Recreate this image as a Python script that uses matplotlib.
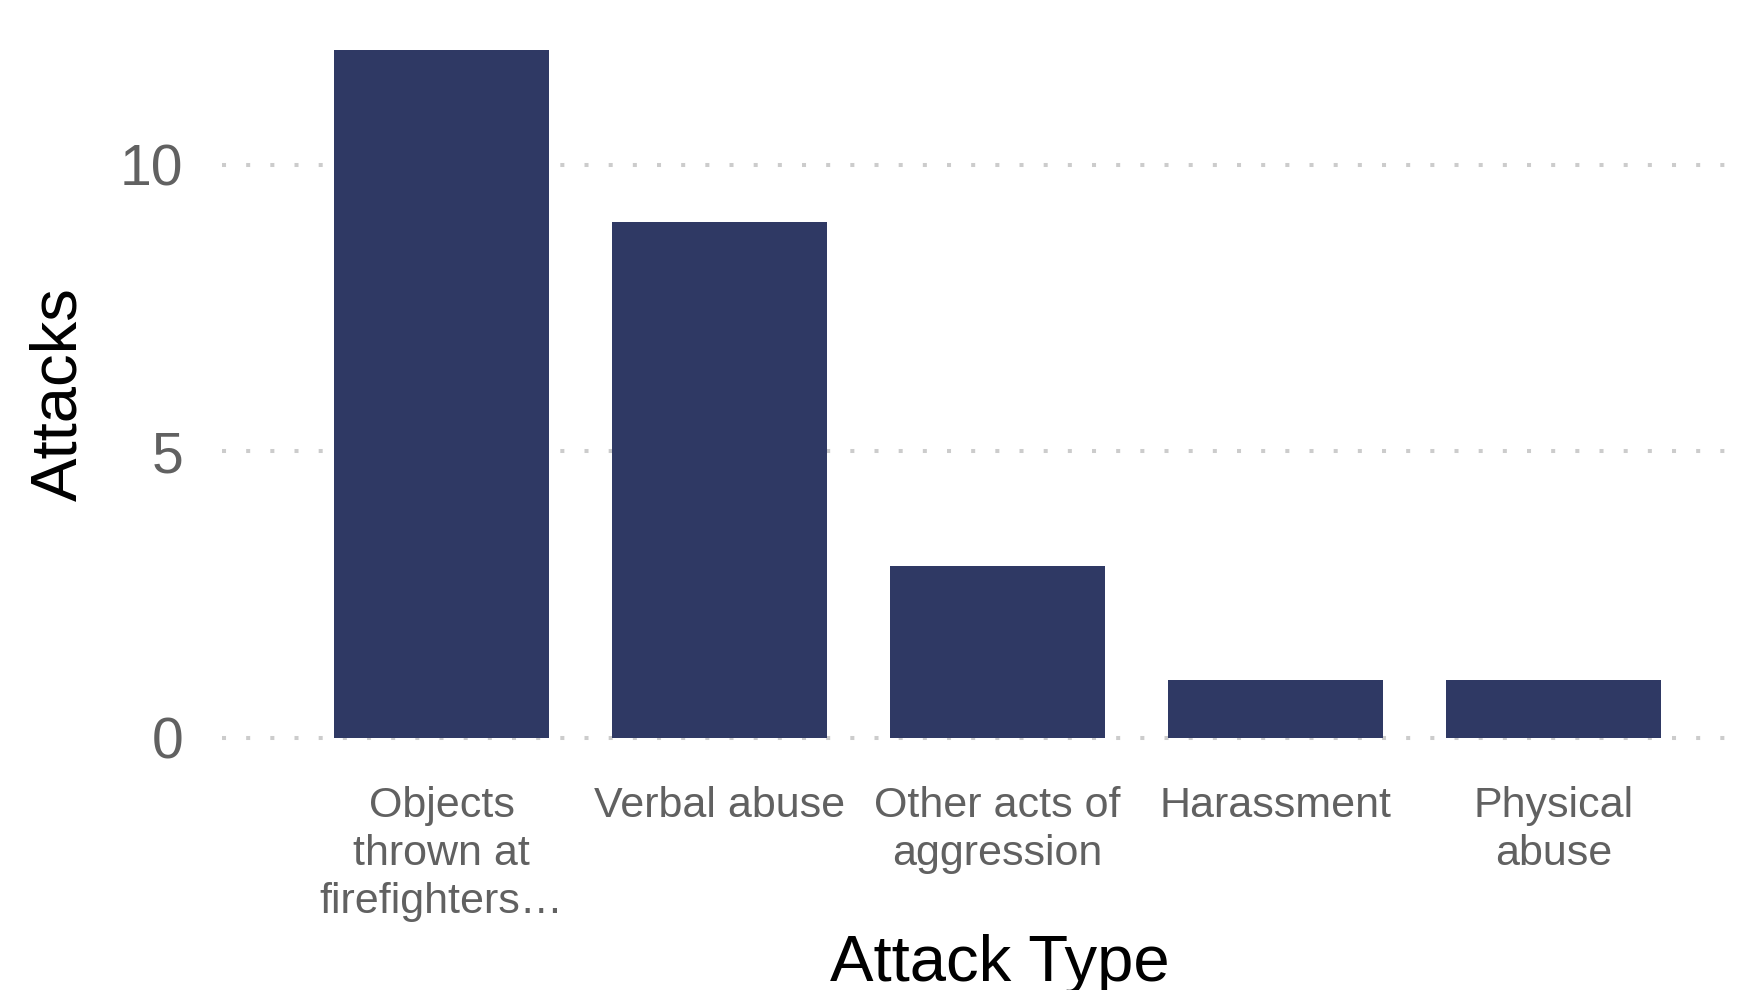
import matplotlib
matplotlib.use("Agg")
import matplotlib.pyplot as plt

attack_types = ["Objects\nthrown at\nfirefighters\u2026", "Verbal abuse",
                "Other acts of\naggression", "Harassment", "Physical\nabuse"]
attacks = [12, 9, 3, 1, 1]
y_ticks = [0, 5, 10]

bar_color = "#2f3964"
tick_gray = "#616161"
grid_gray = "#cccccc"

plt.rcParams['font.family'] = ['Liberation Sans', 'DejaVu Sans']

fig = plt.figure(figsize=(17.58, 9.9), dpi=100)
ax = fig.add_axes([0.1263, 0.2202, 0.9903 - 0.1263, 0.9838 - 0.2202])

x = list(range(len(attack_types)))
ax.bar(x, attacks, width=0.773, color=bar_color, zorder=2)

# dotted horizontal grid behind the bars
for y in y_ticks:
    ax.axhline(y, color=grid_gray, lw=2.9, linestyle=(0, (1, 5)),
               dash_capstyle='butt', zorder=1)

ax.set_xlim(-0.79, 4.675)
ax.set_ylim(-0.6, 12.6)
ax.set_yticks(y_ticks)
ax.set_yticklabels([str(v) for v in y_ticks])
ax.set_xticks(x)
ax.set_xticklabels(attack_types, fontsize=31, color=tick_gray, linespacing=1.26)
ax.tick_params(axis='y', labelsize=41, labelcolor=tick_gray, length=0, pad=28)
ax.tick_params(axis='x', length=0, pad=10)
for s in ax.spines.values():
    s.set_visible(False)

fig.text(59 / 1758, 1 - 394 / 990, "Attacks", rotation=90, fontsize=47,
         ha='center', va='center', color='black')
fig.text(1000 / 1758, 9 / 990, "Attack Type", fontsize=47,
         ha='center', va='baseline', color='black')

fig.savefig("out.png", dpi=100)
